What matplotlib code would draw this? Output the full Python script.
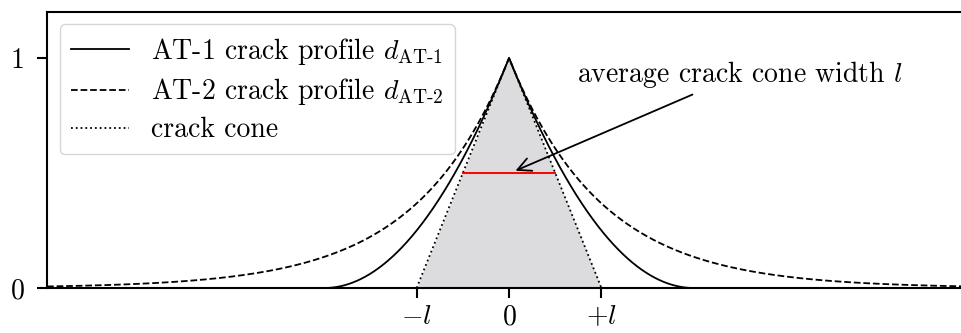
import numpy as np
import matplotlib
matplotlib.use('Agg')
import matplotlib.pyplot as plt

plt.rcParams['font.family'] = 'serif'
plt.rcParams['font.serif'] = ['cmr10']
plt.rcParams['mathtext.fontset'] = 'cm'
plt.rcParams['axes.formatter.use_mathtext'] = True
plt.rcParams['font.size'] = 20

# length scale and profile parameters (in units of l)
l = 1.0
at1_support = 2.0 * l      # AT-1 profile reaches zero at |x| = 2l
at2_decay = 1.0 * l        # AT-2 profile decays like exp(-|x|/l)
cone_half_width = 1.0 * l  # crack cone reaches zero at |x| = l
width_level = 0.5          # height where the average width is drawn

x_ticks = [-l, 0, l]
x_tick_labels = [r'$-l$', r'$0$', r'$+l$']
y_ticks = [0, 1]
y_tick_labels = ['0', '1']

x = np.linspace(-5, 5, 2001)
d_at1 = np.clip(1 - np.abs(x) / at1_support, 0, None) ** 2
d_at2 = np.exp(-np.abs(x) / at2_decay)
xc = np.linspace(-cone_half_width, cone_half_width, 201)
cone = 1 - np.abs(xc) / cone_half_width

fig = plt.figure(figsize=(9.62, 3.33), dpi=100)
ax = fig.add_axes([0.0489, 0.1351, 0.9605, 0.8289])

ax.fill_between(xc, 0, cone, color='#dcdbde', lw=0)
ax.plot(x, d_at1, 'k-', lw=1.3, label=r'AT-1 crack profile $d_{\mathrm{AT\text{-}1}}$')
ax.plot(x, d_at2, 'k--', lw=1.3, label=r'AT-2 crack profile $d_{\mathrm{AT\text{-}2}}$')
ax.plot(xc, cone, 'k:', lw=1.3, label='crack cone')

half = (1 - width_level) * cone_half_width
ax.plot([-half, half], [width_level, width_level], color='red', lw=1.4)

ax.annotate(r'average crack cone width $l$', xy=(0.07, width_level + 0.01),
            xytext=(2.5, 0.93), ha='center', va='center',
            arrowprops=dict(arrowstyle='->', color='k', lw=1.3,
                            mutation_scale=24, shrinkA=4, shrinkB=0))

ax.set_xlim(-5, 5)
ax.set_ylim(0, 1.2)
ax.set_xticks(x_ticks)
ax.set_xticklabels(x_tick_labels)
ax.set_yticks(y_ticks)
ax.set_yticklabels(y_tick_labels)
for s in ax.spines.values():
    s.set_linewidth(1.5)
ax.tick_params(width=1.5, length=7)
ax.tick_params(axis='x', pad=4.5)
ax.tick_params(axis='y', pad=9)

ax.legend(loc='upper left', handlelength=2.1, handletextpad=0.8,
          labelspacing=0.35, borderaxespad=0.45)

fig.savefig('out.png', dpi=100)
